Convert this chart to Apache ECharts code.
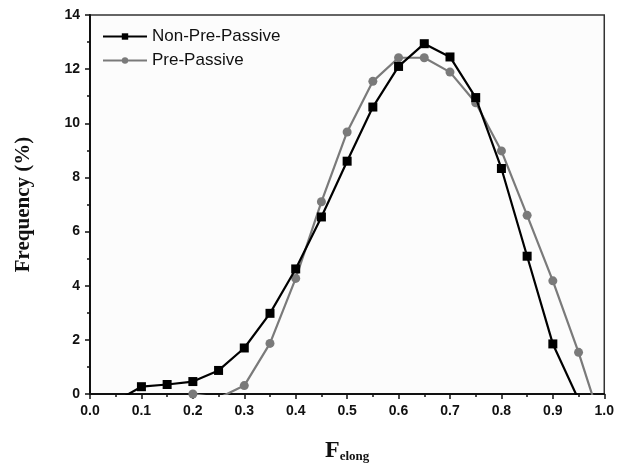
<!DOCTYPE html>
<html>
<head>
<meta charset="utf-8">
<script src="https://cdn.jsdelivr.net/npm/echarts@6/dist/echarts.min.js"></script>
<style>
  html, body { margin: 0; padding: 0; background: #fff; }
  #root { width: 617px; height: 468px; }
</style>
</head>
<body>
<div id="root"></div>
<script>
// F_elong bins and frequencies
// (first/last points lie below 0 and are clipped, they only give the line ends)
const xNonPre = [0.05, 0.10, 0.15, 0.20, 0.25, 0.30, 0.35, 0.40, 0.45, 0.50, 0.55, 0.60, 0.65, 0.70, 0.75, 0.80, 0.85, 0.90, 0.95];
const yNonPre = [-0.27, 0.27, 0.35, 0.46, 0.87, 1.70, 2.98, 4.62, 6.54, 8.60, 10.60, 12.10, 12.94, 12.45, 10.95, 8.33, 5.09, 1.85, -0.21];

const xPre = [0.20, 0.25, 0.30, 0.35, 0.40, 0.45, 0.50, 0.55, 0.60, 0.65, 0.70, 0.75, 0.80, 0.85, 0.90, 0.95, 1.00];
const yPre = [0, -0.15, 0.31, 1.87, 4.27, 7.10, 9.68, 11.55, 12.42, 12.42, 11.89, 10.76, 8.98, 6.60, 4.18, 1.54, -1.42];

const seriesNames = ['Non-Pre-Passive', 'Pre-Passive'];

const pairs = (xs, ys) => xs.map((x, i) => [x, ys[i]]);

const chart = echarts.init(document.getElementById('root'));

const axisFont = {
  fontFamily: 'Liberation Sans',
  fontWeight: 'bold',
  fontSize: 14,
  color: '#111'
};

chart.setOption({
  animation: false,
  backgroundColor: '#fff',
  grid: { left: 90, right: 12, top: 15, bottom: 74, show: true, borderColor: '#333', borderWidth: 1.5, backgroundColor: '#fcfcfc' },
  legend: {
    data: seriesNames,
    orient: 'vertical',
    left: 97,
    top: 23,
    itemWidth: 44,
    itemHeight: 8,
    itemGap: 7,
    textStyle: { fontFamily: 'Liberation Sans', fontSize: 17, color: '#111' }
  },
  xAxis: {
    type: 'value',
    min: 0,
    max: 1,
    interval: 0.1,
    name: '{f|F}{s|elong}',
    nameLocation: 'middle',
    nameGap: 42,
    nameTextStyle: {
      rich: {
        f: { fontFamily: 'Liberation Serif', fontWeight: 'bold', fontSize: 24, color: '#111', verticalAlign: 'bottom' },
        s: { fontFamily: 'Liberation Serif', fontWeight: 'bold', fontSize: 13, color: '#111', verticalAlign: 'bottom', padding: [14, 0, 0, 0] }
      }
    },
    axisLine: { lineStyle: { color: '#111', width: 2 } },
    axisTick: { length: 5, lineStyle: { color: '#111', width: 1.5 } },
    minorTick: { show: true, splitNumber: 2, length: 3, lineStyle: { color: '#111', width: 1.5 } },
    splitLine: { show: false },
    axisLabel: Object.assign({ margin: 10, formatter: v => v.toFixed(1) }, axisFont)
  },
  yAxis: {
    type: 'value',
    min: 0,
    max: 14,
    interval: 2,
    name: 'Frequency (%)',
    nameLocation: 'middle',
    nameGap: 56,
    nameTextStyle: { fontFamily: 'Liberation Serif', fontWeight: 'bold', fontSize: 21, color: '#111' },
    axisLine: { show: true, lineStyle: { color: '#111', width: 2 } },
    axisTick: { show: true, length: 5, lineStyle: { color: '#111', width: 1.5 } },
    minorTick: { show: true, splitNumber: 2, length: 3, lineStyle: { color: '#111', width: 1.5 } },
    splitLine: { show: false },
    axisLabel: Object.assign({ margin: 10 }, axisFont)
  },
  series: [
    {
      name: seriesNames[0],
      type: 'line',
      data: pairs(xNonPre, yNonPre),
      symbol: 'rect',
      symbolSize: 9,
      clip: true,
      z: 3,
      itemStyle: { color: '#000' },
      lineStyle: { color: '#000', width: 2.2 }
    },
    {
      name: seriesNames[1],
      type: 'line',
      data: pairs(xPre, yPre),
      symbol: 'circle',
      symbolSize: 9,
      clip: true,
      z: 2,
      itemStyle: { color: '#7a7a7a' },
      lineStyle: { color: '#7a7a7a', width: 2.2 }
    }
  ]
});
</script>
</body>
</html>
